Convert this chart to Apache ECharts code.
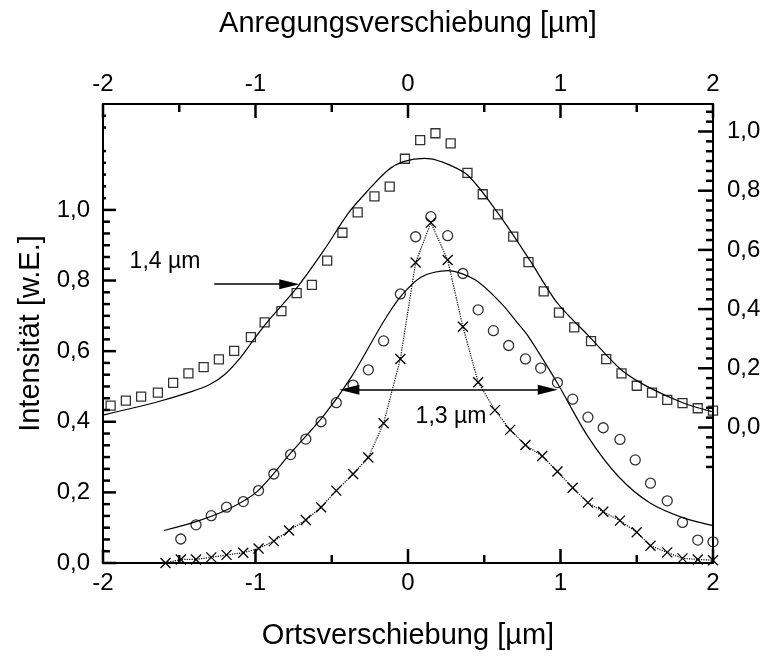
<!DOCTYPE html>
<html>
<head>
<meta charset="utf-8">
<script src="https://cdn.jsdelivr.net/npm/echarts@6/dist/echarts.min.js"></script>
<style>
  html, body { margin: 0; padding: 0; background: #fff; }
  #chart { width: 767px; height: 660px; }
</style>
</head>
<body>
<div id="chart"></div>
<script>
// squares: excitation shift (top axis), right axis
var squareX = [-1.95, -1.85, -1.75, -1.64, -1.54, -1.44, -1.34, -1.24, -1.14, -1.03,
               -0.94, -0.83, -0.73, -0.63, -0.53, -0.43, -0.33, -0.22, -0.12, -0.02,
               0.08, 0.18, 0.28, 0.39, 0.49, 0.59, 0.69, 0.79, 0.89, 0.99,
               1.09, 1.20, 1.30, 1.40, 1.50, 1.60, 1.70, 1.80, 1.90, 2.00];
var squareY = [0.074, 0.091, 0.104, 0.118, 0.151, 0.183, 0.204, 0.230, 0.259, 0.305,
               0.355, 0.393, 0.454, 0.482, 0.564, 0.658, 0.727, 0.781, 0.814, 0.908,
               0.971, 0.994, 0.960, 0.860, 0.788, 0.720, 0.645, 0.559, 0.460, 0.388,
               0.338, 0.292, 0.231, 0.183, 0.141, 0.118, 0.093, 0.082, 0.065, 0.057];
var squareFitX = [-2.00, -1.64, -1.42, -1.30, -1.20, -1.10, -1.00, -0.90, -0.72, -0.55, -0.39, -0.26, -0.13,
                  -0.03, 0.11, 0.22, 0.39, 0.59, 0.79, 0.98, 1.18, 1.40, 1.57, 1.81, 2.00];
var squareFitY = [0.042, 0.087, 0.121, 0.145, 0.180, 0.235, 0.305, 0.370, 0.478, 0.600, 0.725, 0.802, 0.870,
                  0.898, 0.909, 0.898, 0.853, 0.724, 0.572, 0.420, 0.312, 0.194, 0.138, 0.082, 0.053];

// circles and crosses: position shift (bottom axis), left axis
var circleX = [-1.49, -1.39, -1.29, -1.19, -1.08, -0.98, -0.88, -0.77, -0.67, -0.57,
               -0.47, -0.36, -0.26, -0.16, -0.05, 0.05, 0.15, 0.26, 0.36, 0.46,
               0.56, 0.66, 0.77, 0.87, 0.98, 1.08, 1.18, 1.28, 1.39, 1.49,
               1.59, 1.70, 1.80, 1.90, 2.00];
var circleY = [0.068, 0.108, 0.134, 0.158, 0.174, 0.205, 0.252, 0.307, 0.351, 0.400,
               0.454, 0.504, 0.547, 0.629, 0.762, 0.924, 0.981, 0.927, 0.820, 0.717,
               0.658, 0.616, 0.578, 0.552, 0.511, 0.464, 0.413, 0.383, 0.350, 0.292,
               0.226, 0.176, 0.115, 0.065, 0.060];
var circleFitX = [-1.60, -1.39, -1.18, -0.99, -0.77, -0.55, -0.37, -0.16, -0.05, 0.09, 0.26,
                  0.44, 0.61, 0.72, 0.79, 0.98, 1.18, 1.38, 1.59, 1.81, 2.00];
var circleFitY = [0.092, 0.117, 0.152, 0.202, 0.311, 0.419, 0.528, 0.684, 0.754, 0.811, 0.828,
                  0.802, 0.736, 0.679, 0.641, 0.509, 0.358, 0.245, 0.169, 0.127, 0.106];
var crossX = [-1.59, -1.49, -1.39, -1.29, -1.19, -1.08, -0.98, -0.88, -0.78, -0.67,
              -0.57, -0.47, -0.36, -0.26, -0.16, -0.05, 0.05, 0.15, 0.26, 0.36,
              0.46, 0.57, 0.67, 0.77, 0.88, 0.98, 1.08, 1.18, 1.28, 1.39,
              1.50, 1.59, 1.70, 1.80, 1.90, 2.00];
var crossY = [0.000, 0.010, 0.010, 0.016, 0.023, 0.029, 0.041, 0.062, 0.092, 0.122,
              0.158, 0.205, 0.252, 0.299, 0.396, 0.578, 0.851, 0.964, 0.858, 0.669,
              0.512, 0.433, 0.377, 0.334, 0.303, 0.259, 0.213, 0.171, 0.145, 0.120,
              0.087, 0.049, 0.030, 0.013, 0.010, 0.008];

// tick values / labels
var xMajor = [-2, -1, 0, 1, 2];
var xMinor = [-1.5, -0.5, 0.5, 1.5];
var leftMajor = [0, 0.2, 0.4, 0.6, 0.8, 1.0];
var rightMajor = [0, 0.2, 0.4, 0.6, 0.8, 1.0];

// annotation arrows (FWHM markers)
var fwhmSquares = {label: '1,4 µm', from: [-1.27, 0.484], to: [-0.713, 0.484]};
var fwhmCircles = {label: '1,3 µm', from: [-0.450, 0.491], to: [0.982, 0.491]};

var FONT = 'Liberation Sans';
var headLen = 20;                // arrow head length in px
var rMin = -0.4578, rMax = 1.0929, lMax = 1.3;
var pxPerUnitX = 610 / 4;

function zip(xs, ys) {
    return xs.map(function (x, i) { return [x, ys[i]]; });
}
function sixths(kFrom, kTo) {
    var out = [];
    for (var k = kFrom; k <= kTo; k++) {
        if (k % 6 !== 0) out.push(k / 30);
    }
    return out;
}
function comma(v) {
    return v.toFixed(1).replace('.', ',');
}

var black = '#000';
var xAxisBase = function (pos, name, gap) {
    return {
        type: 'value', position: pos, min: -2, max: 2, interval: 1,
        name: name, nameLocation: 'middle', nameGap: gap,
        nameTextStyle: {fontFamily: FONT, fontSize: 29, color: black},
        axisLine: {show: true, onZero: false, lineStyle: {color: black, width: 2}},
        axisTick: {show: false},
        splitLine: {show: false},
        axisLabel: {fontFamily: FONT, fontSize: 24, color: black, margin: 8}
    };
};

// inward tick marks, placed through the axis scales
function ticks(values, side, xAxisIndex, yAxisIndex, len) {
    return {
        type: 'custom', xAxisIndex: xAxisIndex, yAxisIndex: yAxisIndex,
        silent: true, clip: false, z: 10,
        data: values.map(function (v) { return [v]; }),
        renderItem: function (params, api) {
            var cs = params.coordSys;
            var v = api.value(0);
            var shape;
            if (side === 'bottom' || side === 'top') {
                var px = api.coord([v, yAxisIndex === 0 ? 0.5 : 0.3])[0];
                var y0 = side === 'bottom' ? cs.y + cs.height : cs.y;
                shape = {x1: px, y1: y0, x2: px, y2: side === 'bottom' ? y0 - len : y0 + len};
            } else {
                var py = api.coord([0, v])[1];
                var x0 = side === 'left' ? cs.x : cs.x + cs.width;
                shape = {x1: x0, y1: py, x2: side === 'left' ? x0 + len : x0 - len, y2: py};
            }
            return {type: 'line', shape: shape, style: {stroke: black, lineWidth: 2.5}};
        }
    };
}

var chart = echarts.init(document.getElementById('chart'));
var option = {
    animation: false,
    backgroundColor: '#fff',
    grid: {left: 103, right: 54, top: 104, bottom: 97},
    xAxis: [
        xAxisBase('bottom', 'Ortsverschiebung [µm]', 58),
        xAxisBase('top', 'Anregungsverschiebung [µm]', 66)
    ],
    yAxis: [
        {
            type: 'value', position: 'left', min: 0, max: lMax,
            name: 'Intensität [w.E.]', nameLocation: 'middle', nameGap: 58,
            nameTextStyle: {fontFamily: FONT, fontSize: 29, color: black},
            axisLine: {show: true, onZero: false, lineStyle: {color: black, width: 2}},
            axisTick: {show: false},
            axisLabel: {customValues: leftMajor, formatter: comma, fontFamily: FONT, fontSize: 24, color: black, margin: 13},
            splitLine: {show: false}
        },
        {
            type: 'value', position: 'right', min: rMin, max: rMax,
            axisLine: {show: true, onZero: false, lineStyle: {color: black, width: 2}},
            axisTick: {show: false},
            axisLabel: {customValues: rightMajor, formatter: comma, fontFamily: FONT, fontSize: 24, color: black, margin: 14},
            splitLine: {show: false}
        }
    ],
    graphic: [
        {type: 'text', x: 165, y: 262, style: {text: fwhmSquares.label, font: '23px "' + FONT + '"', fill: black, align: 'center', verticalAlign: 'middle'}},
        {type: 'text', x: 451, y: 417, style: {text: fwhmCircles.label, font: '23px "' + FONT + '"', fill: black, align: 'center', verticalAlign: 'middle'}}
    ],
    series: [
        ticks(xMajor, 'bottom', 0, 0, 14),
        ticks(xMinor, 'bottom', 0, 0, 8),
        ticks(xMajor, 'top', 1, 0, 14),
        ticks(xMinor, 'top', 1, 0, 8),
        ticks(leftMajor, 'left', 0, 0, 13),
        ticks(sixths(1, 29), 'left', 0, 0, 7),
        ticks(sixths(31, 38), 'left', 0, 0, 3),
        ticks(rightMajor, 'right', 0, 1, 15),
        ticks(sixths(-4, 32), 'right', 0, 1, 7),
        {
            name: 'square fit', type: 'line', xAxisIndex: 1, yAxisIndex: 1,
            data: zip(squareFitX, squareFitY), smooth: 0.3, showSymbol: false, silent: true,
            lineStyle: {color: black, width: 1.2},
            markLine: {
                silent: true, symbol: ['none', 'triangle'], symbolSize: [10, headLen],
                label: {show: false}, lineStyle: {color: black, width: 1.5, type: 'solid'},
                data: [[{coord: fwhmSquares.from}, {coord: [fwhmSquares.to[0] - headLen / 2 / pxPerUnitX, fwhmSquares.to[1]]}]]
            }
        },
        {
            name: 'squares', type: 'scatter', xAxisIndex: 1, yAxisIndex: 1,
            data: zip(squareX, squareY), symbol: 'rect', symbolSize: 9, silent: true,
            itemStyle: {color: 'rgba(0,0,0,0)', borderColor: black, borderWidth: 1.3}
        },
        {
            name: 'circle fit', type: 'line', xAxisIndex: 0, yAxisIndex: 0,
            data: zip(circleFitX, circleFitY), smooth: 0.3, showSymbol: false, silent: true,
            lineStyle: {color: black, width: 1.2},
            markLine: {
                silent: true, symbol: ['triangle', 'triangle'], symbolSize: [10, headLen],
                label: {show: false}, lineStyle: {color: black, width: 1.5, type: 'solid'},
                data: [[{coord: [fwhmCircles.from[0] + headLen / 2 / pxPerUnitX, fwhmCircles.from[1]]},
                        {coord: [fwhmCircles.to[0] - headLen / 2 / pxPerUnitX, fwhmCircles.to[1]]}]]
            }
        },
        {
            name: 'circles', type: 'scatter', xAxisIndex: 0, yAxisIndex: 0,
            data: zip(circleX, circleY), symbol: 'circle', symbolSize: 10, silent: true,
            itemStyle: {color: 'rgba(0,0,0,0)', borderColor: black, borderWidth: 1.3}
        },
        {
            name: 'crosses', type: 'line', xAxisIndex: 0, yAxisIndex: 0,
            data: zip(crossX, crossY), symbol: 'path://M0,0L10,10M10,0L0,10', symbolSize: 10,
            showSymbol: true, silent: true,
            lineStyle: {color: black, width: 1.2, type: 'dotted'},
            itemStyle: {color: 'rgba(0,0,0,0)', borderColor: black, borderWidth: 1.3}
        }
    ]
};
chart.setOption(option);
</script>
</body>
</html>
